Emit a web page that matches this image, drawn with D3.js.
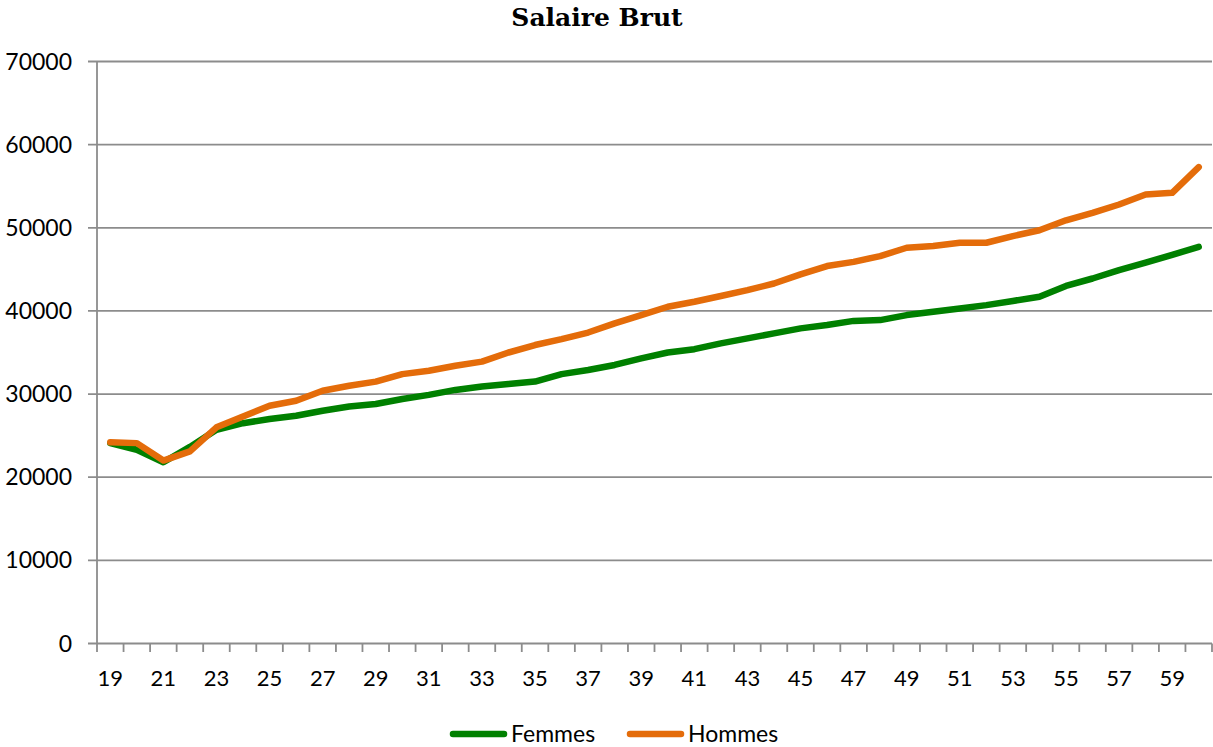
<!DOCTYPE html>
<html><head><meta charset="utf-8">
<script src="https://cdn.jsdelivr.net/npm/d3@7"></script>
<style>body{margin:0;background:#fff}svg{display:block}</style>
</head><body>
<svg id="c" width="1213" height="747"></svg>
<script>
const ages = d3.range(19, 61);
const femmes = [24100,23300,21800,23650,25700,26500,27000,27400,28000,28500,28800,29400,29900,30500,30900,31200,31500,32400,32900,33500,34300,35000,35400,36100,36700,37300,37900,38300,38800,38900,39500,39900,40300,40700,41200,41700,43000,43900,44900,45800,46750,47700];
const hommes = [24200,24100,22000,23100,26000,27300,28600,29200,30400,31000,31500,32400,32800,33400,33900,35000,35900,36600,37400,38500,39500,40500,41100,41800,42500,43300,44400,45400,45900,46600,47600,47800,48200,48200,49000,49700,50900,51800,52800,54000,54200,57300];
const yTicks = [0,10000,20000,30000,40000,50000,60000,70000];
const xLabels = ages.filter((a,i)=>i%2===0);
const seriesNames = ["Femmes","Hommes"];
const colors = ["#008000","#E46C0A"];

(function(){
const svg = d3.select("#c");
const mL = 97, mR = 1212, mT = 61.5, mB = 643.5;
const x = d3.scaleBand().domain(ages).range([mL, mR]);
const y = d3.scaleLinear().domain([0,70000]).range([mB, mT]);
const font = "Lato, 'Open Sans', sans-serif";

svg.append("text").attr("x", 597).attr("y", 26).attr("text-anchor","middle")
  .attr("font-family","'DejaVu Serif', serif").attr("font-weight","bold").attr("font-size",25)
  .attr("fill","#000").text("Salaire Brut");

svg.append("g").selectAll("line").data(yTicks).join("line")
  .attr("x1", mL-9).attr("x2", mR).attr("y1", d=>y(d)).attr("y2", d=>y(d))
  .attr("stroke","#8c8c8c").attr("stroke-width",1.8);
svg.append("line").attr("x1",mL).attr("x2",mL).attr("y1",mT).attr("y2",mB)
  .attr("stroke","#8c8c8c").attr("stroke-width",1.8);
svg.append("g").selectAll("text").data(yTicks).join("text")
  .attr("x", 72).attr("y", d=>y(d)).attr("dy","0.35em").attr("text-anchor","end")
  .attr("font-family",font).attr("font-size",23).attr("fill","#000").text(d=>d);
const tickPos = ages.map(a=>x(a)).concat([mR]);
svg.append("g").selectAll("line").data(tickPos).join("line")
  .attr("x1",d=>d).attr("x2",d=>d).attr("y1",mB).attr("y2",mB+8.5)
  .attr("stroke","#8c8c8c").attr("stroke-width",1.8);
svg.append("g").selectAll("text").data(xLabels).join("text")
  .attr("x", d=>x(d)+x.bandwidth()/2).attr("y", 686).attr("text-anchor","middle")
  .attr("font-family",font).attr("font-size",22).attr("fill","#000").text(d=>d);

const line = d3.line().x((d,i)=>x(ages[i])+x.bandwidth()/2).y(d=>y(d));
[femmes, hommes].forEach((s,k)=>{
  svg.append("path").datum(s).attr("d",line).attr("fill","none")
    .attr("stroke",colors[k]).attr("stroke-width",6.5)
    .attr("stroke-linejoin","round").attr("stroke-linecap","round");
});

const legX = [450, 627];
seriesNames.forEach((n,k)=>{
  svg.append("line").attr("x1",legX[k]+3).attr("x2",legX[k]+54).attr("y1",734).attr("y2",734)
    .attr("stroke",colors[k]).attr("stroke-width",6.5).attr("stroke-linecap","round");
  svg.append("text").attr("x",legX[k]+61).attr("y",734).attr("dy","0.35em")
    .attr("font-family",font).attr("font-size",23).attr("fill","#000").text(n);
});
})();
</script>
</body></html>
